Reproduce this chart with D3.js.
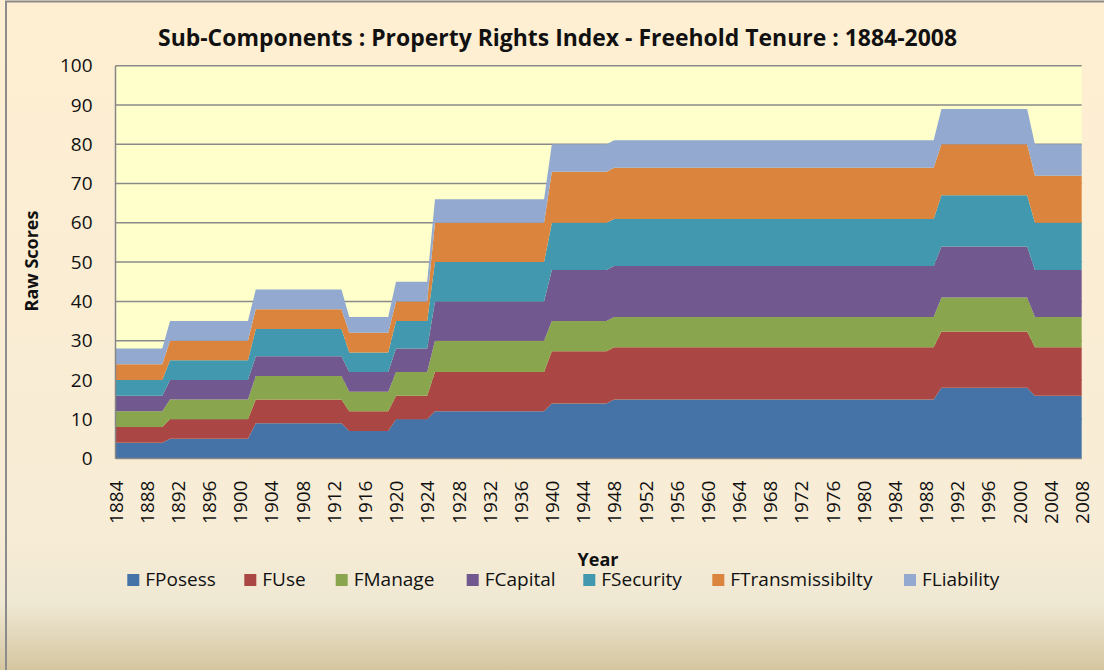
<!DOCTYPE html>
<html><head><meta charset="utf-8">
<script src="https://cdn.jsdelivr.net/npm/d3@7"></script>
<style>body{margin:0;background:#fff;} svg{display:block;font-family:'Open Sans',sans-serif;}</style>
</head><body>
<svg id="c" width="1104" height="670"></svg>
<script>
// Data points (years where the values change)
const years = [1884,1890,1891,1901,1902,1913,1914,1919,1920,1924,1925,1939,1940,1947,1948,1989,1990,2001,2002,2008];
const FPosess          = [4,4,5,5,9,9,7,7,10,10,12,12,14,14,15,15,18,18,16,16];
const FUse             = [4,4,5,5,6,6,5,5,6,6,10,10,13.33,13.33,13.33,13.33,14.33,14.33,12.33,12.33];
const FManage          = [4,4,5,5,6,6,5,5,6,6,8,8,7.67,7.67,7.67,7.67,8.67,8.67,7.67,7.67];
const FCapital         = [4,4,5,5,5,5,5,5,6,6,10,10,13,13,13,13,13,13,12,12];
const FSecurity        = [4,4,5,5,7,7,5,5,7,7,10,10,12,12,12,12,13,13,12,12];
const FTransmissibilty = [4,4,5,5,5,5,5,5,5,5,10,10,13,13,13,13,13,13,12,12];
const FLiability       = [4,4,5,5,5,5,4,4,5,5,6,6,7,7,7,7,9,9,8,8];
const seriesNames = ["FPosess","FUse","FManage","FCapital","FSecurity","FTransmissibilty","FLiability"];
const seriesValues = [FPosess,FUse,FManage,FCapital,FSecurity,FTransmissibilty,FLiability];
const colors = ["#4572A7","#AA4643","#89A54E","#71588F","#4198AF","#DB843D","#93A9CF"];
const xTickYears = [1884,1888,1892,1896,1900,1904,1908,1912,1916,1920,1924,1928,1932,1936,1940,1944,1948,1952,1956,1960,1964,1968,1972,1976,1980,1984,1988,1992,1996,2000,2004,2008];
const yTicks = [0,10,20,30,40,50,60,70,80,90,100];

const svg = d3.select("#c");
const defs = svg.append("defs");
const g = defs.append("linearGradient").attr("id","bg").attr("x1",0).attr("y1",0).attr("x2",0).attr("y2",1);
[[0,"#FFEFD2"],[0.8,"#F7ECD6"],[0.9,"#EFE8D3"],[1,"#D5C6A0"]].forEach(s=>g.append("stop").attr("offset",s[0]).attr("stop-color",s[1]));

svg.append("rect").attr("x",0).attr("y",0).attr("width",1104).attr("height",670).attr("fill","url(#bg)");
svg.append("rect").attr("x",6).attr("y",1.5).attr("width",1120).attr("height",690)
  .attr("fill","none").attr("stroke","#8c8c8c").attr("stroke-width",2);

const L=115.5, R=1081.7, T=65.7, B=458.5;
const x = d3.scaleLinear().domain([1884,2008]).range([L,R]);
const y = d3.scaleLinear().domain([0,100]).range([B,T]);

svg.append("rect").attr("x",L).attr("y",T).attr("width",R-L).attr("height",B-T).attr("fill","#FFFFCC");

// gridlines
svg.append("g").selectAll("line").data(yTicks.filter(d=>d>0)).join("line")
  .attr("x1",L).attr("x2",R).attr("y1",d=>y(d)).attr("y2",d=>y(d))
  .attr("stroke","#8a8a8a").attr("stroke-width",1.5);

// stacked areas
const rows = years.map((yr,i)=>{const o={year:yr}; seriesNames.forEach((n,k)=>o[n]=seriesValues[k][i]); return o;});
const stack = d3.stack().keys(seriesNames)(rows);
const area = d3.area().x(d=>x(d.data.year)).y0(d=>y(d[0])).y1(d=>y(d[1]));
svg.append("g").selectAll("path").data(stack).join("path")
  .attr("d",area).attr("fill",(d,i)=>colors[i]);

// axes lines
svg.append("line").attr("x1",L).attr("x2",L).attr("y1",T).attr("y2",B).attr("stroke","#868686").attr("stroke-width",1.5);
svg.append("line").attr("x1",L).attr("x2",R).attr("y1",B).attr("y2",B).attr("stroke","#868686").attr("stroke-width",1.5);

// y axis labels
const yAxis = d3.axisLeft(y).tickValues(yTicks).tickSize(0).tickPadding(23);
const ya = svg.append("g").attr("transform",`translate(${L},0)`).call(yAxis);
ya.select(".domain").remove();
ya.selectAll("text").attr("font-size",19).attr("font-family","'Open Sans',sans-serif").attr("fill","#111");

// x axis labels
const xAxis = d3.axisBottom(x).tickValues(xTickYears).tickFormat(d3.format("d")).tickSize(0);
const xa = svg.append("g").attr("transform",`translate(0,${B})`).call(xAxis);
xa.select(".domain").remove();
xa.selectAll("text").attr("font-size",19).attr("font-family","'Open Sans',sans-serif").attr("fill","#111")
  .attr("transform","rotate(-90)").attr("text-anchor","end").attr("dy","0.35em").attr("x",-22).attr("y",0);

// title
svg.append("text").attr("x",557.5).attr("y",46).attr("text-anchor","middle")
  .attr("font-size",23).attr("font-weight","bold").attr("fill","#111")
  .attr("textLength",799).attr("lengthAdjust","spacingAndGlyphs")
  .text("Sub-Components : Property Rights Index - Freehold Tenure : 1884-2008");

// axis titles
svg.append("text").attr("transform","translate(38,261) rotate(-90)").attr("text-anchor","middle")
  .attr("font-size",18).attr("font-weight","bold").attr("fill","#111").text("Raw Scores");
svg.append("text").attr("x",598).attr("y",566).attr("text-anchor","middle")
  .attr("font-size",18).attr("font-weight","bold").attr("fill","#111").text("Year");

// legend
const legX = [127.3,244.3,335.7,466.7,583.3,712.3,904];
const leg = svg.append("g");
seriesNames.forEach((n,i)=>{
  leg.append("rect").attr("x",legX[i]).attr("y",574).attr("width",12).attr("height",12).attr("fill",colors[i]);
  leg.append("text").attr("x",legX[i]+18).attr("y",586).attr("font-size",19).attr("fill","#111").text(n);
});
</script>
</body></html>
